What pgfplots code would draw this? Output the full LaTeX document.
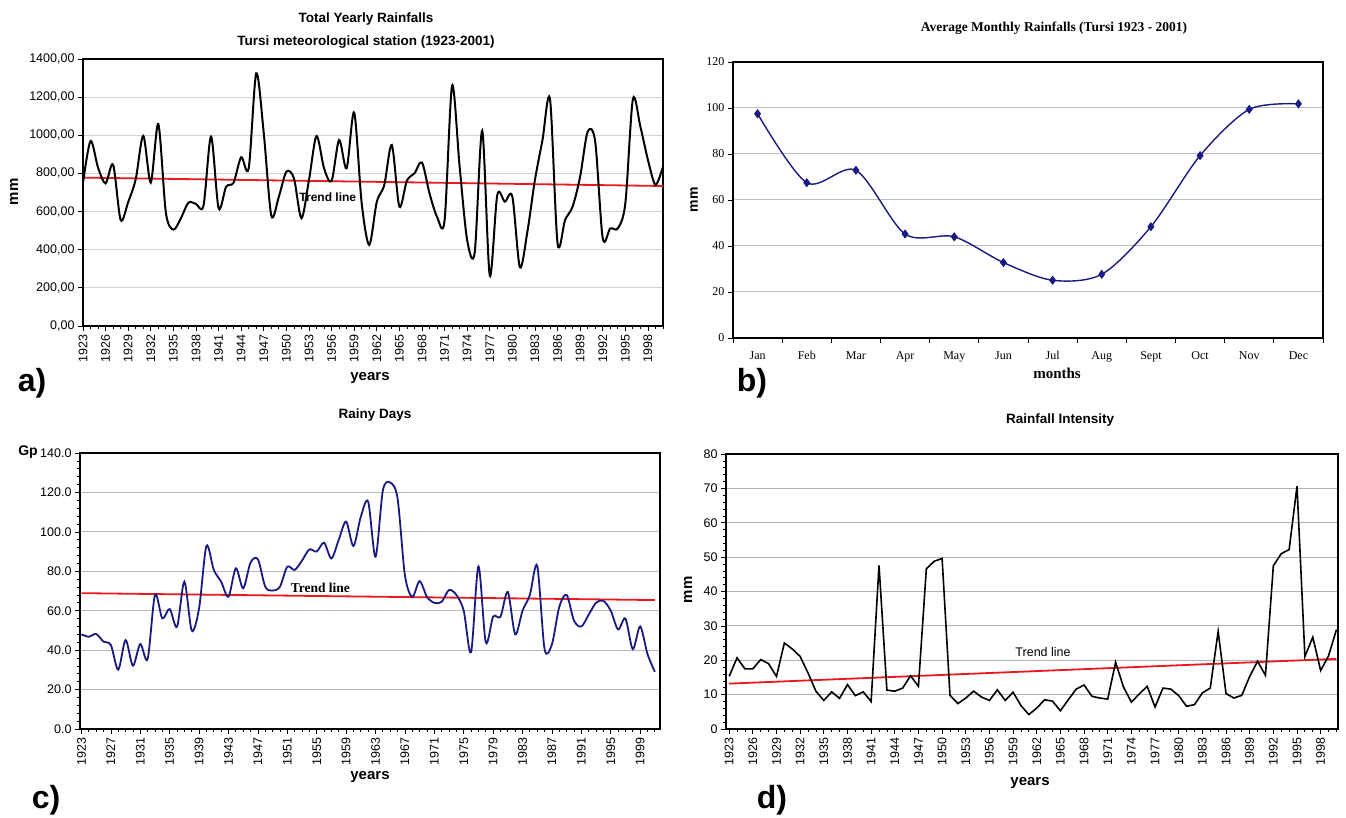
\documentclass[border=0pt]{standalone}
\usepackage{fontspec}
\setmainfont{Liberation Sans}
\newfontfamily\tnr{Liberation Serif}
\usepackage{pgfplots}
\usepackage{pgfplotstable}
\pgfplotsset{compat=1.18}

\definecolor{navy}{RGB}{25,25,130}
\definecolor{trend}{RGB}{235,25,30}

\pgfplotstableread{
yr v
1923 750
1924 970
1925 830
1926 748
1927 845
1928 556
1929 650
1930 770
1931 997
1932 752
1933 1059
1934 595
1935 505
1936 565
1937 647
1938 640
1939 632
1940 993
1941 618
1942 730
1943 752
1944 885
1945 827
1946 1325
1947 1010
1948 579
1949 678
1950 809
1951 775
1952 565
1953 765
1954 996
1955 827
1956 760
1957 975
1958 827
1959 1119
1960 643
1961 425
1962 650
1963 740
1964 949
1965 626
1966 762
1967 800
1968 857
1969 696
1970 573
1971 552
1972 1260
1973 836
1974 451
1975 385
1976 1024
1977 266
1978 687
1979 652
1980 678
1981 308
1982 495
1983 766
1984 975
1985 1189
1986 434
1987 556
1988 626
1989 783
1990 1019
1991 967
1992 460
1993 512
1994 512
1995 643
1996 1189
1997 1045
1998 871
1999 740
2000 836
}\dataA

\pgfplotstableread{
m v
1 97.5
2 67.5
3 72.9
4 45.2
5 44.0
6 32.8
7 25.1
8 27.7
9 48.4
10 79.3
11 99.4
12 101.8
}\dataB

\pgfplotstableread{
yr v
1923 48.0
1924 46.8
1925 48.2
1926 44.3
1927 42.6
1928 30.1
1929 45.1
1930 32.1
1931 43.1
1932 35.5
1933 68.0
1934 56.1
1935 60.9
1936 51.9
1937 74.7
1938 49.9
1939 61.2
1940 92.8
1941 80.7
1942 74.7
1943 67.1
1944 81.5
1945 71.4
1946 84.4
1947 86.1
1948 72.2
1949 70.2
1950 72.2
1951 82.3
1952 80.7
1953 85.4
1954 91.1
1955 90.0
1956 94.5
1957 86.5
1958 96.0
1959 105.2
1960 92.8
1961 107.7
1962 115.3
1963 87.4
1964 121
1965 125
1966 117
1967 78
1968 67
1969 75
1970 67
1971 64
1972 64.5
1973 70.5
1974 68
1975 60
1976 39
1977 82.5
1978 44
1979 57
1980 57
1981 69.5
1982 48
1983 60
1984 68
1985 82.7
1986 40.5
1987 43
1988 62
1989 68
1990 55
1991 52
1992 58
1993 64
1994 65
1995 60
1996 50.5
1997 56
1998 40.5
1999 52
2000 38
2001 29
}\dataC

\pgfplotstableread{
yr v
1923 15.3
1924 20.7
1925 17.5
1926 17.5
1927 20.2
1928 19.0
1929 15.3
1930 25.0
1931 23.3
1932 21.1
1933 16.3
1934 11.0
1935 8.3
1936 10.8
1937 8.9
1938 12.9
1939 9.7
1940 10.8
1941 8.0
1942 47.6
1943 11.3
1944 11.0
1945 11.9
1946 15.5
1947 12.4
1948 46.6
1949 48.8
1950 49.6
1951 9.8
1952 7.4
1953 9.0
1954 11.0
1955 9.3
1956 8.3
1957 11.4
1958 8.3
1959 10.7
1960 6.8
1961 4.2
1962 6.1
1963 8.5
1964 8.1
1965 5.3
1966 8.5
1967 11.6
1968 12.8
1969 9.5
1970 9.0
1971 8.7
1972 19.4
1973 12.2
1974 7.8
1975 10.2
1976 12.4
1977 6.4
1978 11.9
1979 11.6
1980 9.7
1981 6.6
1982 7.1
1983 10.5
1984 11.9
1985 28.4
1986 10.3
1987 9.0
1988 9.8
1989 15.3
1990 19.7
1991 15.6
1992 47.5
1993 51.0
1994 52.2
1995 70.6
1996 21.1
1997 26.7
1998 17.0
1999 21.3
2000 28.9
}\dataD

\pgfplotsset{
  base/.style={
    scale only axis,
    anchor=south west,
    axis line style={black, line width=1.2pt},
    tick style={black, line width=0.7pt},
    xtick pos=bottom, ytick pos=left,
    tick align=outside,
    major tick length=5pt, minor tick length=3pt,
    ymajorgrids,
    /pgf/number format/assume math mode=true,
    tick label style={font=\fontsize{12.5}{15}\selectfont},
  },
  years/.style={
    x tick label style={rotate=90, anchor=east, /pgf/number format/1000 sep={}},
  }
}

\begin{document}
\begin{tikzpicture}[x=1pt,y=1pt]
\useasboundingbox (0,0) rectangle (1346,818);

% ---------- a) ----------
\begin{axis}[base, years, at={(83pt,492pt)}, width=580pt, height=267pt,
  xmin=1923, xmax=2000, ymin=0, ymax=1400, ytick={0,200,...,1400},
  xtick={1923,1926,...,1998}, minor xtick={1923,...,2000},
  y tick label style={/pgf/number format/.cd, fixed, fixed zerofill, precision=2, use comma, 1000 sep={}},
  major grid style={gray!35, line width=1pt}]
\addplot[trend, line width=1.8pt] coordinates {(1923,778) (2000,734)};
\addplot[black, line width=2pt, smooth] table[x=yr, y=v] {\dataA};
\node[font=\bfseries\fontsize{12}{14}\selectfont] at (axis cs:1955.5,676) {Trend line};
\end{axis}
\node[font=\bfseries\fontsize{13.5}{23}\selectfont, align=center] at (366,787) {Total Yearly Rainfalls\\Tursi meteorological station (1923-2001)};
\node[font=\bfseries\fontsize{15}{18}\selectfont, rotate=90] at (14,626) {mm};
\node[font=\bfseries\fontsize{15}{18}\selectfont] at (370,440) {years};
\node[font=\bfseries\fontsize{32}{36}\selectfont] at (32,435) {a)};

% ---------- b) ----------
\begin{axis}[base, at={(733pt,480pt)}, width=590pt, height=276pt,
  xmin=0.5, xmax=12.5, ymin=0, ymax=120, ytick={0,20,...,120},
  xtick={0.5,1.5,...,12.5}, xticklabels={},
  extra x ticks={1,...,12},
  extra x tick labels={Jan,Feb,Mar,Apr,May,Jun,Jul,Aug,Sept,Oct,Nov,Dec},
  extra x tick style={major tick length=0pt},
  x tick label style={anchor=north, yshift=-10pt},
  tick label style={font=\tnr\fontsize{12}{14}\selectfont},
  major grid style={gray!50, line width=1pt}]
\addplot[navy, line width=1.4pt, smooth, mark=diamond*, mark size=3.5pt, mark options={solid}] table[x=m, y=v] {\dataB};
\end{axis}
\node[font=\tnr\bfseries\fontsize{13.5}{16}\selectfont] at (1054,790) {Average Monthly Rainfalls (Tursi 1923 - 2001)};
\node[font=\bfseries\fontsize{14}{17}\selectfont, rotate=90] at (694,618) {mm};
\node[font=\tnr\bfseries\fontsize{15}{18}\selectfont] at (1057,445) {months};
\node[font=\bfseries\fontsize{32}{36}\selectfont] at (752,435) {b)};

% ---------- c) ----------
\begin{axis}[base, years, at={(80pt,89pt)}, width=580pt, height=276pt,
  xmin=1922.8, xmax=2001.7, ymin=0, ymax=140, ytick={0,20,...,140},
  minor y tick num=4,
  xtick={1923,1927,...,1999}, minor xtick={1923,...,2001},
  y tick label style={/pgf/number format/.cd, fixed, fixed zerofill, precision=1},
  major grid style={gray!55, line width=1pt}]
\addplot[trend, line width=1.8pt] coordinates {(1923,68.9) (2001,65.4)};
\addplot[navy, line width=1.8pt, smooth] table[x=yr, y=v] {\dataC};
\node[font=\tnr\bfseries\fontsize{13.5}{16}\selectfont] at (axis cs:1955.5,71.8) {Trend line};
\end{axis}
\node[font=\bfseries\fontsize{13.5}{16}\selectfont] at (375,403) {Rainy Days};
\node[font=\bfseries\fontsize{14}{17}\selectfont] at (28,366) {Gp};
\node[font=\bfseries\fontsize{15}{18}\selectfont] at (370,41) {years};
\node[font=\bfseries\fontsize{32}{36}\selectfont] at (46,18) {c)};

% ---------- d) ----------
\begin{axis}[base, years, at={(726pt,89pt)}, width=612pt, height=275pt,
  xmin=1922.6, xmax=2000.2, ymin=0, ymax=80, ytick={0,10,...,80},
  minor y tick num=4,
  xtick={1923,1926,...,1998}, minor xtick={1923,...,2000},
  major grid style={gray!60, line width=1pt}]
\addplot[trend, line width=1.8pt] coordinates {(1923,13.2) (2000,20.4)};
\addplot[black, line width=1.6pt] table[x=yr, y=v] {\dataD};
\node[font=\fontsize{12.5}{15}\selectfont] at (axis cs:1962.8,22.4) {Trend line};
\end{axis}
\node[font=\bfseries\fontsize{13.5}{16}\selectfont] at (1060,398) {Rainfall Intensity};
\node[font=\bfseries\fontsize{15}{18}\selectfont, rotate=90] at (688,228) {mm};
\node[font=\bfseries\fontsize{15}{18}\selectfont] at (1030,35) {years};
\node[font=\bfseries\fontsize{32}{36}\selectfont] at (772,18) {d)};
\end{tikzpicture}
\end{document}
